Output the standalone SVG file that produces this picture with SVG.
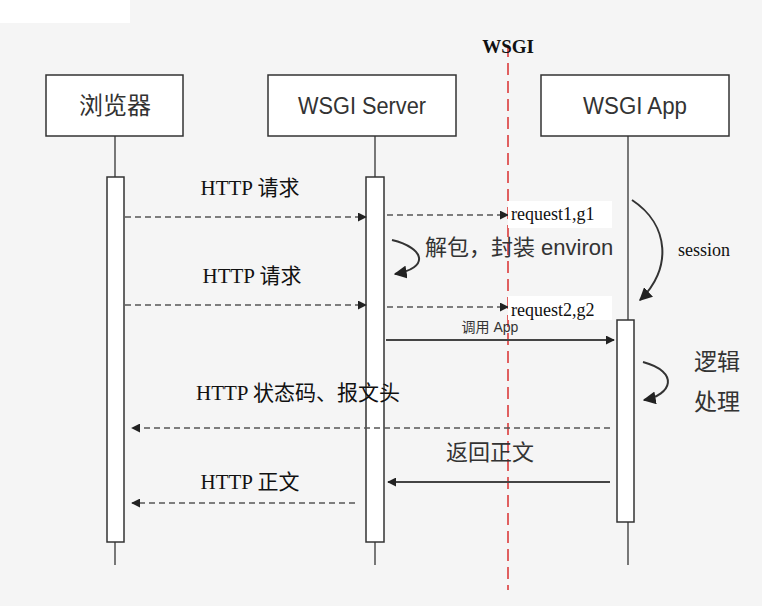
<svg xmlns="http://www.w3.org/2000/svg" width="762" height="606" viewBox="0 0 762 606">
<defs>
<marker id="ah" viewBox="0 0 10 10" refX="9" refY="5" markerWidth="9" markerHeight="9" markerUnits="userSpaceOnUse" orient="auto"><path d="M0,0L10,5L0,10z" fill="#222"/></marker>
<marker id="ahb" viewBox="0 0 10 10" refX="9" refY="5" markerWidth="13" markerHeight="13" markerUnits="userSpaceOnUse" orient="auto"><path d="M0,0L10,5L0,10z" fill="#222"/></marker>
</defs>
<style>
.box{fill:#fff;stroke:#333;stroke-width:1.5}
.ll{stroke:#333;stroke-width:1.3}
.t{font-family:"Liberation Sans","Noto Sans CJK SC",sans-serif;fill:#333}
.s{font-family:"Liberation Serif","Noto Sans CJK SC",serif;fill:#111}
.d{stroke:#555;stroke-width:1.5;stroke-dasharray:6,4;fill:none;marker-end:url(#ah)}
.sol{stroke:#444;stroke-width:2;fill:none;marker-end:url(#ah)}
.cv{stroke:#333;stroke-width:2;fill:none;marker-end:url(#ahb)}
</style>
<rect width="762" height="606" fill="#f5f5f5"/>
<rect width="130" height="23" fill="#fff"/>
<g id="browser">
<line class="ll" x1="115" y1="136" x2="115" y2="565"/>
<rect class="box" x="46" y="75" width="137" height="61"/>
<text class="t" x="115" y="114" font-size="24" text-anchor="middle">浏览器</text>
<rect class="box" x="107" y="177" width="17" height="365"/>
</g>
<g id="server">
<line class="ll" x1="375" y1="136" x2="375" y2="565"/>
<rect class="box" x="268" y="75" width="188" height="61"/>
<text class="t" x="362" y="114" font-size="23" text-anchor="middle" textLength="128" lengthAdjust="spacingAndGlyphs">WSGI Server</text>
<rect class="box" x="366" y="177" width="18" height="365"/>
</g>
<g id="app">
<line class="ll" x1="628" y1="136" x2="628" y2="565"/>
<rect class="box" x="541" y="75" width="188" height="61"/>
<text class="t" x="635" y="114" font-size="23" text-anchor="middle" textLength="104" lengthAdjust="spacingAndGlyphs">WSGI App</text>
<rect class="box" x="617" y="320" width="17" height="202"/>
</g>
<g id="wsgi">
<line x1="508" y1="45" x2="508" y2="590" stroke="#e06060" stroke-width="2" stroke-dasharray="12,6"/>
<text class="s" x="508" y="53" font-size="19" font-weight="bold" text-anchor="middle">WSGI</text>
</g>
<g id="connectors">
<path class="d" d="M125,217H366"/>
<path class="d" d="M387,215H508"/>
<path class="cv" d="M392,240C425,248 430,268 395,274"/>
<path class="d" d="M125,305H366"/>
<path class="d" d="M387,307H508"/>
<path class="sol" d="M386,340H614"/>
<path class="cv" d="M632,200C670,225 672,270 640,300"/>
<path class="cv" d="M643,362C680,372 672,395 644,400"/>
<path class="d" d="M610,428H132"/>
<path class="sol" d="M610,482H388"/>
<path class="d" d="M355,503H132"/>
</g>
<g id="labels">
<text class="s" x="250" y="195" font-size="21" text-anchor="middle">HTTP 请求</text>
<rect x="508" y="201" width="104" height="27" fill="#fff"/>
<text class="s" x="511" y="220" font-size="18">request1,g1</text>
<text class="t" x="425" y="255" font-size="22">解包，封装 environ</text>
<text class="s" x="252" y="283" font-size="21" text-anchor="middle">HTTP 请求</text>
<rect x="508" y="296" width="104" height="24" fill="#fff"/>
<text class="s" x="511" y="316" font-size="18">request2,g2</text>
<text class="t" x="490" y="332" font-size="14" text-anchor="middle">调用 App</text>
<text class="s" x="678" y="256" font-size="18">session</text>
<text class="t" x="717" y="370" font-size="23" text-anchor="middle">逻辑</text>
<text class="t" x="717" y="410" font-size="23" text-anchor="middle">处理</text>
<text class="s" x="298" y="400" font-size="21" text-anchor="middle">HTTP 状态码、报文头</text>
<text class="t" x="490" y="460" font-size="22" text-anchor="middle">返回正文</text>
<text class="s" x="250" y="489" font-size="21" text-anchor="middle">HTTP 正文</text>
</g>
</svg>
